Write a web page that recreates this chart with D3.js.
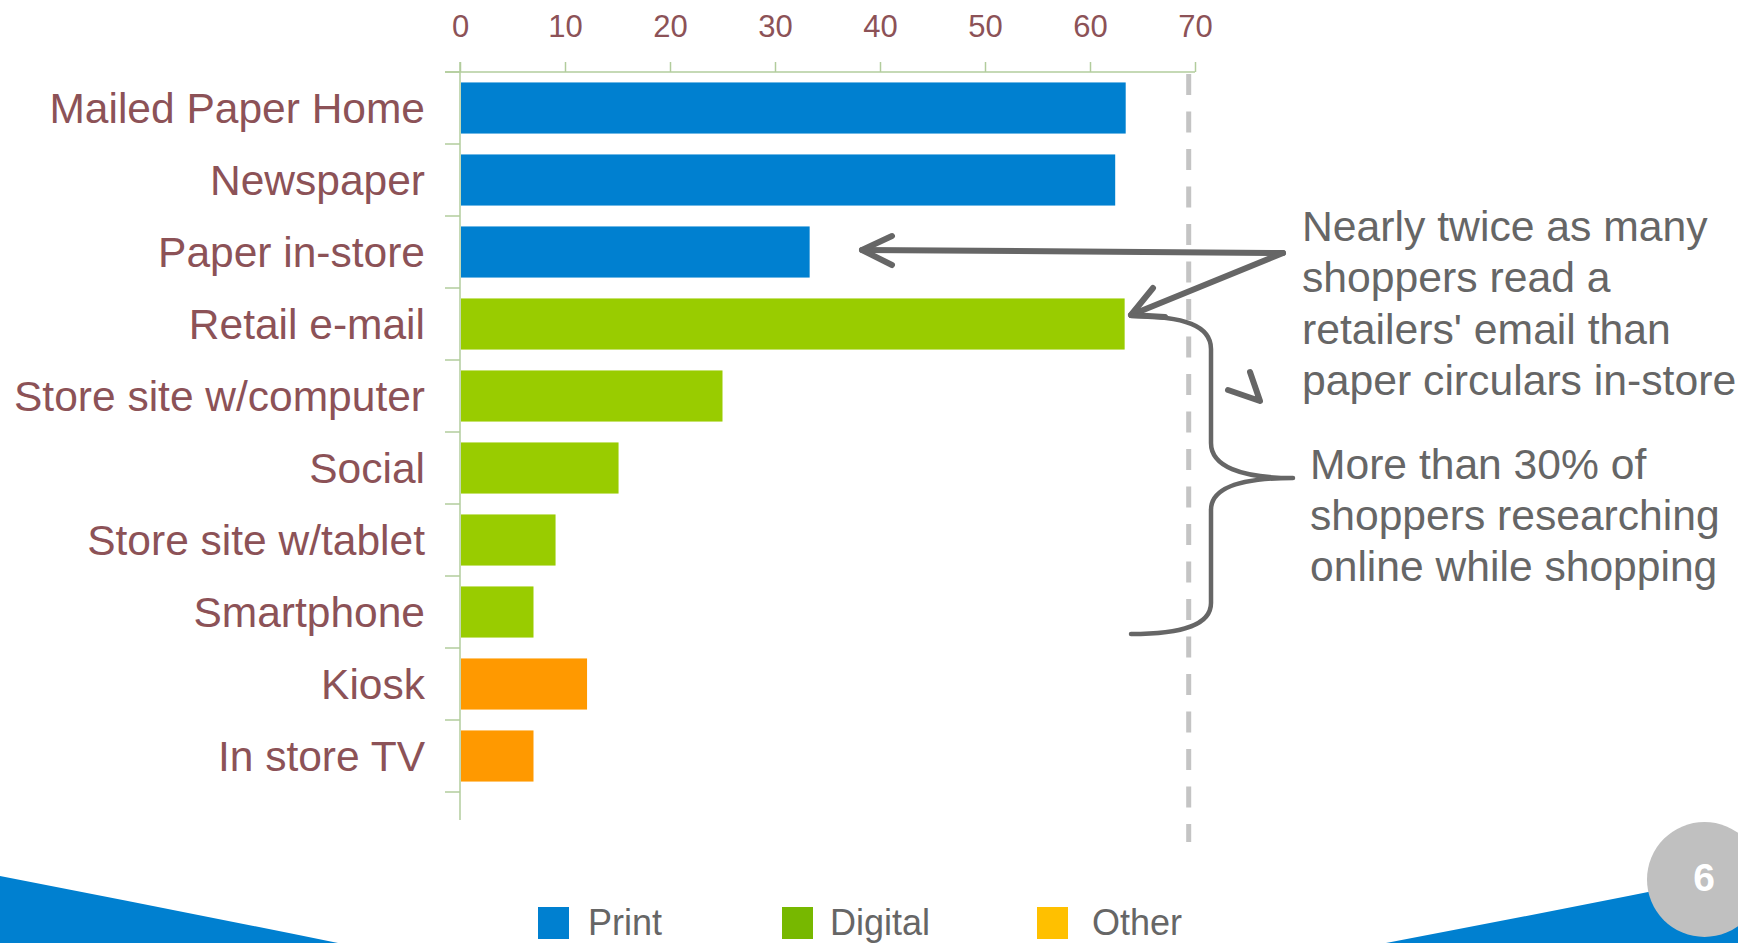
<!DOCTYPE html>
<html>
<head>
<meta charset="utf-8">
<script src="https://cdn.jsdelivr.net/npm/d3@7"></script>
<style>
  html, body { margin: 0; padding: 0; background: #ffffff; }
  svg { display: block; font-family: "Liberation Sans", Arial, sans-serif; }
</style>
</head>
<body>
<svg id="chart" width="1738" height="943"></svg>
<script>
// Sources of circulars and ads shoppers use (percent of shoppers)
const categories = [
  "Mailed Paper Home", "Newspaper", "Paper in-store", "Retail e-mail",
  "Store site w/computer", "Social", "Store site w/tablet", "Smartphone",
  "Kiosk", "In store TV"
];
const values = [63.4, 62.4, 33.3, 63.3, 25.0, 15.1, 9.1, 7.0, 12.1, 7.0];
const groups = ["Print", "Print", "Print", "Digital", "Digital", "Digital", "Digital", "Digital", "Other", "Other"];
const xTicks = [0, 10, 20, 30, 40, 50, 60, 70];
const referenceValue = 69.4;

const legendLabels = ["Print", "Digital", "Other"];
const barColors = { Print: "#0080D0", Digital: "#99CC00", Other: "#FF9900" };
const legendColors = { Print: "#0080D0", Digital: "#77B800", Other: "#FFC000" };

const noteLines1 = ["Nearly twice as many", "shoppers read a", "retailers' email than", "paper circulars in-store"];
const noteLines2 = ["More than 30% of", "shoppers researching", "online while shopping"];

const svg = d3.select("#chart");
const labelColor = "#8C5257";
const axisColor = "#B2CC9C";
const noteColor = "#666666";

// Scales
const x = d3.scaleLinear().domain([0, 70]).range([460, 1195]);
const rows = d3.scaleBand().domain(categories).range([72, 792]);
const y = d3.scaleBand().domain(categories).range([72, 792]).paddingInner(0.29).paddingOuter(0.145);

// Bottom decorative swooshes
svg.append("path")
  .attr("d", "M0,876 Q170,909 338,943 L0,943 Z")
  .attr("fill", "#0080D0");
svg.append("path")
  .attr("d", "M1386,943 Q1560,910 1738,874 L1738,943 Z")
  .attr("fill", "#0080D0");

// Dashed reference line
svg.append("line")
  .attr("x1", x(referenceValue)).attr("x2", x(referenceValue))
  .attr("y1", 74).attr("y2", 842)
  .attr("stroke", "#C4C4C4")
  .attr("stroke-width", 5)
  .attr("stroke-dasharray", "21,16.5");

// Top value axis
const xAxis = d3.axisTop(x).tickValues(xTicks).tickSize(10).tickPadding(25).tickSizeOuter(0);
const gx = svg.append("g").attr("transform", "translate(0,72)").call(xAxis);
gx.select(".domain").remove();
gx.selectAll(".tick line").attr("stroke", axisColor).attr("stroke-width", 1.5);
gx.selectAll(".tick text")
  .attr("fill", labelColor)
  .attr("font-size", 31)
  .attr("font-family", "'Liberation Sans', Arial, sans-serif");
svg.append("line")
  .attr("x1", 445).attr("x2", x(70))
  .attr("y1", 72).attr("y2", 72)
  .attr("stroke", axisColor).attr("stroke-width", 1.5);

// Category axis line and row separators
svg.append("line")
  .attr("x1", x(0)).attr("x2", x(0))
  .attr("y1", 62).attr("y2", 820)
  .attr("stroke", axisColor).attr("stroke-width", 1.5);
const sepPositions = categories.map(c => rows(c)).concat([rows.range()[1]]);
svg.append("g").selectAll("line")
  .data(sepPositions)
  .join("line")
  .attr("x1", x(0) - 15).attr("x2", x(0))
  .attr("y1", d => d).attr("y2", d => d)
  .attr("stroke", axisColor).attr("stroke-width", 1.5);

// Bars
svg.append("g").selectAll("rect")
  .data(categories)
  .join("rect")
  .attr("x", x(0) + 1)
  .attr("y", d => y(d))
  .attr("width", (d, i) => x(values[i]) - x(0) - 1)
  .attr("height", y.bandwidth())
  .attr("fill", (d, i) => barColors[groups[i]]);

// Category labels
svg.append("g").selectAll("text")
  .data(categories)
  .join("text")
  .attr("x", 425)
  .attr("y", d => rows(d) + rows.bandwidth() / 2)
  .attr("dy", "0.36em")
  .attr("text-anchor", "end")
  .attr("font-size", 42.5)
  .attr("fill", labelColor)
  .text(d => d);

// Annotation arrows
const arrowStyle = g => g.attr("fill", "none").attr("stroke", "#666666")
  .attr("stroke-linecap", "round").attr("stroke-linejoin", "round");

const arrows = svg.append("g").call(arrowStyle).attr("stroke-width", 6);
arrows.append("path").attr("d", "M1283,253 L862,250");
arrows.append("path").attr("d", "M892,236 L862,250 L892,265");
arrows.append("path").attr("d", "M1283,253 L1131,315");
arrows.append("path").attr("d", "M1153,288 L1131,315 L1165,317");
arrows.append("path").attr("d", "M1250,372 L1260,401 L1228,390");

// Brace around the digital rows
svg.append("path").call(arrowStyle)
  .attr("stroke-width", 4.5)
  .attr("d", "M1131,316 C1185,316 1211,326 1211,349 L1211,443 C1211,466 1240,478 1293,478 " +
             "C1240,478 1211,488 1211,510 L1211,603 C1211,624 1185,634 1131,634");

// Annotation text
svg.append("g").selectAll("text")
  .data(noteLines1)
  .join("text")
  .attr("x", 1302)
  .attr("y", (d, i) => 241 + i * 51.3)
  .attr("font-size", 42.7)
  .attr("fill", noteColor)
  .text(d => d);
svg.append("g").selectAll("text")
  .data(noteLines2)
  .join("text")
  .attr("x", 1310)
  .attr("y", (d, i) => 479 + i * 51)
  .attr("font-size", 42.6)
  .attr("fill", noteColor)
  .text(d => d);

// Legend
const legendX = [538, 782, 1037];
const legendTextX = [588, 830, 1092];
const legend = svg.append("g").selectAll("g")
  .data(legendLabels)
  .join("g");
legend.append("rect")
  .attr("x", (d, i) => legendX[i]).attr("y", 907)
  .attr("width", 31).attr("height", 32)
  .attr("fill", d => legendColors[d]);
legend.append("text")
  .attr("x", (d, i) => legendTextX[i]).attr("y", 934.5)
  .attr("font-size", 36)
  .attr("fill", noteColor)
  .text(d => d);

// Page number badge
svg.append("circle")
  .attr("cx", 1704.5).attr("cy", 879.5).attr("r", 57.5)
  .attr("fill", "#C0C0C0");
svg.append("text")
  .attr("x", 1704).attr("y", 891)
  .attr("text-anchor", "middle")
  .attr("font-size", 39)
  .attr("font-weight", "bold")
  .attr("fill", "#ffffff")
  .text("6");
</script>
</body>
</html>
